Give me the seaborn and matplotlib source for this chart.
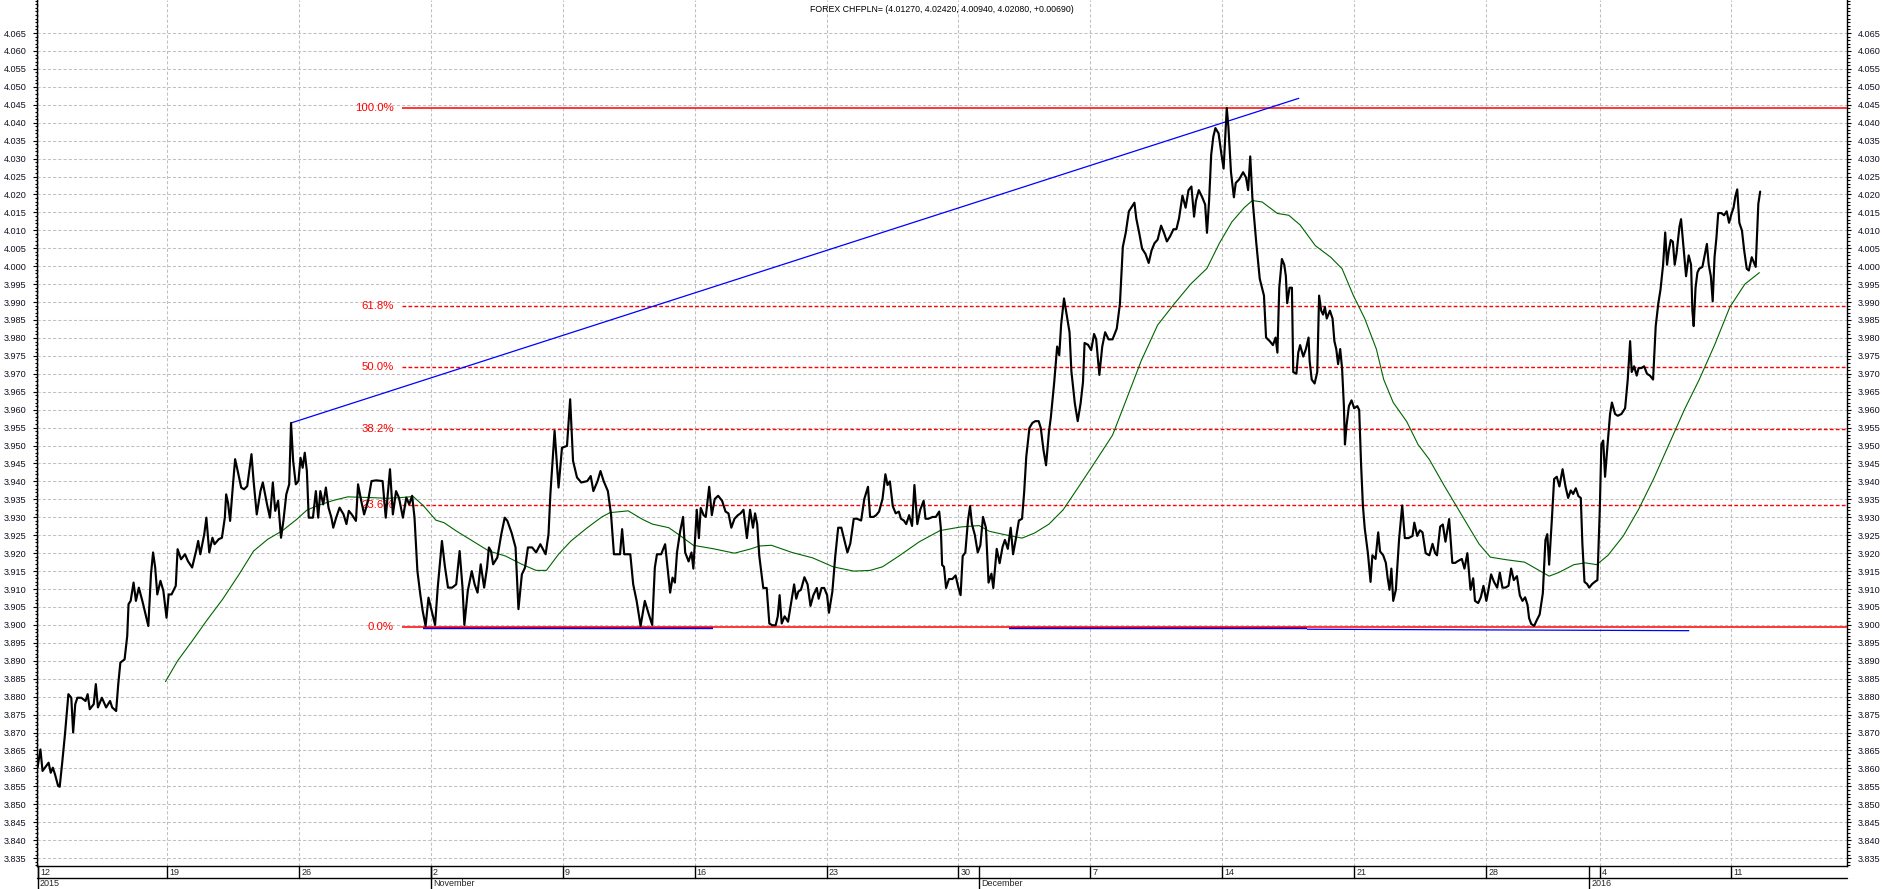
import matplotlib
matplotlib.use("Agg")
import matplotlib.pyplot as plt
import matplotlib.transforms as mtransforms
from matplotlib.lines import Line2D
from matplotlib.ticker import MultipleLocator, FormatStrFormatter
import numpy as np
import seaborn as sns

title = "FOREX CHFPLN= (4.01270, 4.02420, 4.00940, 4.02080, +0.00690)"

# x is counted in trading days from Mon 12 Oct 2015 (as laid out on the chart)
price_day = [
    0.09, 0.20, 0.28, 0.51, 0.59, 0.67, 0.75, 0.87, 0.93, 1.02, 1.13, 1.26, 1.37, 1.44, 1.52, 1.60,
    1.75, 1.91, 1.99, 2.07, 2.22, 2.30, 2.38, 2.53, 2.69, 2.84, 2.92, 3.07, 3.15, 3.23, 3.39, 3.49,
    3.54, 3.62, 3.73, 3.82, 3.93, 4.08, 4.29, 4.39, 4.47, 4.55, 4.63, 4.75, 4.86, 4.98, 5.06, 5.17,
    5.33, 5.40, 5.53, 5.68, 5.79, 5.95, 6.10, 6.18, 6.26, 6.41, 6.49, 6.60, 6.72, 6.80, 6.96, 7.08,
    7.19, 7.24, 7.31, 7.39, 7.50, 7.58, 7.69, 7.81, 7.92, 8.04, 8.20, 8.28, 8.40, 8.54, 8.63, 8.79,
    8.90, 9.01, 9.10, 9.21, 9.32, 9.41, 9.52, 9.63, 9.70, 9.78, 9.88, 9.98, 10.06, 10.14, 10.22, 10.30,
    10.37, 10.53, 10.64, 10.73, 10.81, 10.92, 11.02, 11.12, 11.23, 11.30, 11.41, 11.54, 11.69, 11.80,
    11.89, 12.00, 12.16, 12.24, 12.36, 12.47, 12.62, 12.75, 12.93, 13.17, 13.29, 13.45, 13.56, 13.68,
    13.79, 13.94, 14.07, 14.18, 14.29, 14.38, 14.49, 14.60, 14.69, 14.80, 14.91, 15.03, 15.16, 15.26,
    15.42, 15.53, 15.65, 15.81, 15.96, 16.09, 16.20, 16.27, 16.40, 16.55, 16.66, 16.77, 16.89, 17.02,
    17.13, 17.20, 17.28, 17.36, 17.52, 17.67, 17.80, 17.90, 18.06, 18.21, 18.32, 18.45, 18.57, 18.68,
    18.84, 18.99, 19.15, 19.35, 19.46, 19.53, 19.69, 19.84, 19.97, 20.16, 20.28, 20.39, 20.54, 20.70,
    20.93, 21.06, 21.16, 21.32, 21.43, 21.55, 21.71, 21.83, 21.94, 22.17, 22.25, 22.33, 22.56, 22.67,
    22.80, 22.95, 23.11, 23.26, 23.39, 23.49, 23.57, 23.73, 23.88, 23.96, 24.07, 24.16,
    24.25, 24.33, 24.45, 24.56, 24.64, 24.77, 24.88, 24.95, 25.08, 25.16, 25.23, 25.34, 25.42, 25.55,
    25.65, 25.76, 25.89, 26.04, 26.17, 26.28, 26.39, 26.51, 26.64, 26.74, 26.85, 26.98, 27.10, 27.21,
    27.29, 27.37, 27.45, 27.60, 27.73, 27.83, 27.94, 28.07, 28.15, 28.22, 28.30, 28.41, 28.54, 28.66,
    28.77, 28.85, 28.93, 29.03, 29.16, 29.28, 29.39, 29.50, 29.63, 29.70, 29.81, 29.91, 30.02, 30.09,
    30.22, 30.33, 30.44, 30.56, 30.69, 30.79, 30.90, 31.03, 31.15, 31.31, 31.43, 31.57, 31.65, 31.78,
    31.88, 31.99, 32.12, 32.23, 32.31, 32.40, 32.51, 32.62, 32.74, 32.82, 32.93, 33.02, 33.13, 33.24,
    33.33, 33.44, 33.55, 33.68, 33.75, 33.86, 34.02, 34.14, 34.27, 34.33, 34.38, 34.45, 34.53, 34.64,
    34.77, 34.89, 35.00, 35.08, 35.16, 35.26, 35.36, 35.44, 35.51, 35.62, 35.73, 35.83, 35.93, 36.04,
    36.14, 36.25, 36.32, 36.45, 36.56, 36.67, 36.76, 36.87, 36.98, 37.07, 37.18, 37.29, 37.41, 37.49,
    37.57, 37.69, 37.80, 37.91, 38.04, 38.12, 38.22, 38.32, 38.43, 38.50, 38.63, 38.74, 38.82, 38.89,
    39.00, 39.10, 39.21, 39.28, 39.41, 39.52, 39.63, 39.72, 39.78, 39.91, 40.03, 40.14, 40.22, 40.34,
    40.45, 40.56, 40.69, 40.84, 41.00, 41.12, 41.23, 41.34, 41.46, 41.59, 41.67, 41.74, 41.85, 41.96,
    42.09, 42.21, 42.32, 42.43, 42.55, 42.68, 42.79, 42.90, 43.02, 43.15, 43.26, 43.36, 43.49, 43.61,
    43.72, 43.83, 43.93, 44.00, 44.11, 44.24, 44.35, 44.42, 44.50, 44.58, 44.66, 44.74, 44.86, 44.97,
    45.05, 45.12, 45.17, 45.23, 45.33, 45.44, 45.51, 45.64, 45.79, 45.90, 45.98, 46.06, 46.14, 46.29,
    46.42, 46.58, 46.66, 46.80, 46.92, 47.02, 47.09, 47.16, 47.26, 47.35, 47.41, 47.46, 47.55, 47.64,
    47.69, 47.81, 47.88, 47.95, 48.07, 48.17, 48.27, 48.31, 48.39, 48.50, 48.60, 48.67, 48.75, 48.82,
    48.89, 48.96, 49.08, 49.18, 49.25, 49.32, 49.39, 49.47, 49.54, 49.61, 49.65, 49.71, 49.80, 49.90,
    50.00, 50.12, 50.19, 50.26, 50.33, 50.40, 50.52, 50.62, 50.69, 50.81, 50.91, 50.98, 51.10, 51.20,
    51.27, 51.34, 51.41, 51.48, 51.58, 51.70, 51.82, 51.92, 52.06, 52.21, 52.28, 52.39, 52.49, 52.59,
    52.71, 52.85, 52.97, 53.07, 53.14, 53.26, 53.36, 53.46, 53.60, 53.72, 53.83, 53.93, 54.08, 54.18,
    54.29, 54.41, 54.51, 54.58, 54.70, 54.80, 54.90, 55.01, 55.09, 55.19, 55.30, 55.42, 55.52, 55.62,
    55.73, 55.85, 55.95, 56.05, 56.17, 56.28, 56.38, 56.48, 56.57, 56.63, 56.71, 56.82, 56.92, 57.03,
    57.15, 57.25, 57.32, 57.39, 57.49, 57.58, 57.68, 57.78, 57.90, 58.01, 58.11, 58.21, 58.30, 58.40,
    58.50, 58.59, 58.65, 58.73, 58.83, 58.91, 59.02, 59.12, 59.22, 59.31, 59.37, 59.44, 59.51, 59.60,
    59.70, 59.77, 59.89, 59.99, 60.13, 60.27, 60.37, 60.46, 60.52, 60.61, 60.71, 60.78, 60.89, 60.99,
    61.10, 61.21, 61.33, 61.43, 61.53, 61.61, 61.71, 61.79, 61.86, 61.93, 62.00, 62.08, 62.15, 62.22,
    62.33, 62.39, 62.48, 62.58, 62.68, 62.77, 62.82, 62.87, 62.94, 63.01, 63.08, 63.20, 63.30, 63.37,
    63.44, 63.52, 63.59, 63.66, 63.73, 63.80, 63.92, 64.02, 64.12, 64.21, 64.31, 64.38, 64.45, 64.52,
    64.60, 64.70, 64.78, 64.88, 64.96, 65.07, 65.13, 65.22, 65.27, 65.32, 65.39,
]
price_val = [
    3.8602, 3.8653, 3.8593, 3.8616, 3.8588, 3.8602, 3.8584, 3.8551, 3.8549, 3.8612, 3.8695, 3.8807, 3.8797, 3.8700, 3.8779, 3.8797,
    3.8797, 3.8788, 3.8807, 3.8765, 3.8779, 3.8835, 3.8770, 3.8797, 3.8770, 3.8788, 3.8770, 3.8760, 3.8835, 3.8895, 3.8904, 3.8969,
    3.9058, 3.9067, 3.9118, 3.9067, 3.9104, 3.9062, 3.8997, 3.9141, 3.9202, 3.9160, 3.9085, 3.9123, 3.9095, 3.9020, 3.9085, 3.9085,
    3.9109, 3.9211, 3.9183, 3.9197, 3.9178, 3.9160, 3.9206, 3.9234, 3.9197, 3.9253, 3.9299, 3.9202, 3.9243, 3.9225, 3.9239, 3.9243,
    3.9299, 3.9364, 3.9341, 3.9290, 3.9392, 3.9462, 3.9425, 3.9383, 3.9378, 3.9387, 3.9476, 3.9401, 3.9308, 3.9373, 3.9397, 3.9336,
    3.9299, 3.9397, 3.9318, 3.9346, 3.9243, 3.9290, 3.9364, 3.9392, 3.9563, 3.9457, 3.9392, 3.9401, 3.9466, 3.9438, 3.9480, 3.9429,
    3.9299, 3.9299, 3.9373, 3.9299, 3.9373, 3.9336, 3.9383, 3.9327, 3.9299, 3.9271, 3.9299, 3.9327, 3.9308, 3.9281,
    3.9318, 3.9308, 3.9290, 3.9392, 3.9346, 3.9308, 3.9346, 3.9401, 3.9403, 3.9401, 3.9299, 3.9434, 3.9308, 3.9373,
    3.9355, 3.9299, 3.9355, 3.9336, 3.9360, 3.9299, 3.9150, 3.9085, 3.9039, 3.8997, 3.9076, 3.9039, 3.9000, 3.9104,
    3.9234, 3.9164, 3.9104, 3.9104, 3.9113, 3.9206, 3.9104, 3.9000, 3.9095, 3.9150, 3.9113, 3.9090, 3.9169, 3.9104,
    3.9160, 3.9216, 3.9206, 3.9169, 3.9188, 3.9253, 3.9299, 3.9290, 3.9257, 3.9216, 3.9044, 3.9141, 3.9160, 3.9216,
    3.9216, 3.9202, 3.9225, 3.9197, 3.9253, 3.9364, 3.9541, 3.9383, 3.9494, 3.9499, 3.9629, 3.9457, 3.9411, 3.9397,
    3.9401, 3.9415, 3.9373, 3.9401, 3.9429, 3.9401, 3.9373, 3.9308, 3.9197, 3.9197, 3.9267, 3.9197, 3.9197, 3.9113,
    3.9067, 3.8997, 3.9067, 3.9030, 3.9000, 3.9160, 3.9197, 3.9197, 3.9225, 3.9169, 3.9090, 3.9132,
    3.9118, 3.9202, 3.9261, 3.9301, 3.9202, 3.9177, 3.9202, 3.9157, 3.9321, 3.9242, 3.9326, 3.9306, 3.9301, 3.9385,
    3.9306, 3.9351, 3.9360, 3.9346, 3.9316, 3.9311, 3.9271, 3.9296, 3.9306, 3.9311, 3.9321, 3.9242, 3.9321, 3.9271,
    3.9311, 3.9281, 3.9192, 3.9103, 3.9103, 3.9004, 3.8999, 3.8999, 3.9024, 3.9083, 3.9004, 3.9024, 3.9009, 3.9063,
    3.9113, 3.9073, 3.9093, 3.9098, 3.9133, 3.9113, 3.9053, 3.9083, 3.9103, 3.9073, 3.9103, 3.9103, 3.9083, 3.9034,
    3.9093, 3.9192, 3.9271, 3.9271, 3.9232, 3.9202, 3.9227, 3.9296, 3.9296, 3.9291, 3.9351, 3.9385, 3.9301, 3.9301,
    3.9306, 3.9316, 3.9351, 3.9420, 3.9390, 3.9400, 3.9331, 3.9311, 3.9316, 3.9296, 3.9291, 3.9281, 3.9306, 3.9276,
    3.9390, 3.9281, 3.9321, 3.9346, 3.9296, 3.9296, 3.9301, 3.9301, 3.9316, 3.9271, 3.9167, 3.9162, 3.9103, 3.9128,
    3.9128, 3.9138, 3.9103, 3.9083, 3.9192, 3.9202, 3.9291, 3.9331, 3.9281, 3.9251, 3.9202, 3.9222, 3.9301, 3.9271,
    3.9118, 3.9143, 3.9103, 3.9212, 3.9172, 3.9217, 3.9237, 3.9212, 3.9271, 3.9197, 3.9242, 3.9291, 3.9296, 3.9370,
    3.9469, 3.9549, 3.9563, 3.9568, 3.9568, 3.9549, 3.9489, 3.9445, 3.9539, 3.9578, 3.9677, 3.9776, 3.9752, 3.9836,
    3.9910, 3.9866, 3.9816, 3.9707, 3.9618, 3.9568, 3.9618, 3.9677, 3.9786, 3.9781, 3.9766, 3.9811, 3.9796, 3.9697,
    3.9776, 3.9816, 3.9796, 3.9796, 3.9826, 3.9895, 4.0054, 4.0093, 4.0153, 4.0168, 4.0177, 4.0133, 4.0093, 4.0049,
    4.0034, 4.0009, 4.0044, 4.0064, 4.0074, 4.0113, 4.0093, 4.0069, 4.0083, 4.0103, 4.0103, 4.0133, 4.0197, 4.0163,
    4.0212, 4.0222, 4.0138, 4.0182, 4.0212, 4.0192, 4.0172, 4.0093, 4.0182, 4.0311, 4.0361, 4.0385, 4.0370, 4.0311,
    4.0272, 4.0370, 4.0441, 4.0390, 4.0262, 4.0192, 4.0232, 4.0242, 4.0262, 4.0247, 4.0212, 4.0306, 4.0192, 4.0064,
    3.9965, 3.9918, 3.9801, 3.9791, 3.9780, 3.9801, 3.9759, 3.9940, 4.0020, 4.0004, 3.9972, 3.9897, 3.9940, 3.9940,
    3.9705, 3.9700, 3.9759, 3.9780, 3.9748, 3.9769, 3.9801, 3.9737, 3.9684, 3.9673, 3.9705, 3.9918, 3.9876, 3.9865,
    3.9886, 3.9854, 3.9876, 3.9854, 3.9791, 3.9769, 3.9727, 3.9769, 3.9716, 3.9610, 3.9503, 3.9556, 3.9610, 3.9626,
    3.9604, 3.9610, 3.9599, 3.9450, 3.9333, 3.9269, 3.9200, 3.9120, 3.9194, 3.9184, 3.9258, 3.9205, 3.9194, 3.9173,
    3.9130, 3.9098, 3.9157, 3.9067, 3.9098, 3.9237, 3.9333, 3.9242, 3.9242, 3.9248, 3.9285, 3.9248, 3.9264, 3.9258,
    3.9200, 3.9194, 3.9226, 3.9200, 3.9194, 3.9274, 3.9280, 3.9232, 3.9295, 3.9173, 3.9173, 3.9178, 3.9184, 3.9157,
    3.9200, 3.9098, 3.9130, 3.9067, 3.9061, 3.9077, 3.9109, 3.9067, 3.9098, 3.9141, 3.9120, 3.9104, 3.9146, 3.9104,
    3.9104, 3.9109, 3.9157, 3.9125, 3.9136, 3.9082, 3.9067, 3.9077, 3.9056, 3.9019, 3.9003, 3.8997, 3.9013, 3.9029,
    3.9088, 3.9237, 3.9253, 3.9168, 3.9290, 3.9407, 3.9413, 3.9386, 3.9434, 3.9386, 3.9354, 3.9375, 3.9365, 3.9381,
    3.9359, 3.9354, 3.9226, 3.9120, 3.9114, 3.9104, 3.9114, 3.9120, 3.9125, 3.9322, 3.9503, 3.9514, 3.9413, 3.9498,
    3.9588, 3.9620, 3.9588, 3.9583, 3.9588, 3.9604, 3.9684, 3.9791, 3.9705, 3.9721, 3.9695, 3.9716, 3.9716, 3.9721,
    3.9700, 3.9695, 3.9684, 3.9833, 3.9897, 3.9934, 4.0004, 4.0094, 4.0004, 4.0046, 4.0073, 4.0068, 4.0004, 4.0036,
    4.0110, 4.0131, 4.0057, 3.9972, 4.0030, 4.0004, 3.9876, 3.9833, 3.9940, 3.9982, 3.9993, 3.9998, 4.0036, 4.0062,
    4.0004, 3.9972, 3.9902, 4.0025, 4.0078, 4.0148, 4.0148, 4.0142, 4.0153, 4.0121, 4.0148, 4.0163, 4.0195, 4.0214,
    4.0121, 4.0099, 4.0046, 3.9993, 3.9988, 4.0025, 4.0014, 3.9998, 4.0089, 4.0174, 4.0208,
]

# moving average (green)
ma_day = [
    4.94, 5.40, 5.95, 6.49, 7.11, 7.73, 8.28, 8.82, 9.36, 9.91, 10.30, 10.68, 11.30, 11.85, 12.70, 13.32,
    13.87, 14.33, 14.72, 15.19, 15.50, 15.96, 16.58, 17.20, 17.83, 18.45, 18.99, 19.38, 19.84, 20.31,
    20.93, 21.48, 21.79, 22.48, 23.03, 23.40, 24.02, 24.41, 24.95, 25.73, 26.51, 27.13, 27.45, 27.91,
    28.69, 29.47, 30.25, 31.03, 31.65, 32.12, 32.74, 33.52, 34.30, 35.08, 35.78, 36.17, 36.79, 37.41,
    37.88, 38.43, 38.97, 39.60, 40.22, 40.84, 41.31, 41.93, 42.55, 43.18, 43.80, 44.42, 44.89, 45.36,
    45.83, 46.14, 46.51, 47.09, 47.52, 47.95, 48.53, 49.11, 49.54, 49.97, 50.40, 50.84, 51.12, 51.48,
    51.99, 52.42, 52.85, 53.43, 53.86, 54.29, 54.73, 55.16, 55.74, 56.46, 56.89, 57.39, 57.75, 58.33,
    58.76, 59.19, 59.62, 60.20, 60.78, 61.35, 61.93, 62.51, 63.08, 63.66, 64.24, 64.81, 65.36,
]
ma_val = [
    3.8842, 3.8900, 3.8955, 3.9011, 3.9072, 3.9141, 3.9206, 3.9239, 3.9262, 3.9294, 3.9320, 3.9332, 3.9347, 3.9357, 3.9355, 3.9353,
    3.9355, 3.9358, 3.9332, 3.9292, 3.9285, 3.9262, 3.9234, 3.9206, 3.9192, 3.9169, 3.9152, 3.9152, 3.9197, 3.9234,
    3.9271, 3.9301, 3.9313, 3.9318, 3.9294, 3.9281, 3.9271, 3.9251, 3.9222, 3.9212, 3.9200, 3.9212, 3.9220, 3.9222,
    3.9202, 3.9187, 3.9162, 3.9150, 3.9152, 3.9162, 3.9192, 3.9232, 3.9263, 3.9273, 3.9277, 3.9261, 3.9251, 3.9242,
    3.9256, 3.9281, 3.9321, 3.9390, 3.9459, 3.9529, 3.9618, 3.9737, 3.9836, 3.9895, 3.9950, 3.9994, 4.0064, 4.0123,
    4.0163, 4.0183, 4.0179, 4.0147, 4.0142, 4.0115, 4.0057, 4.0025, 3.9993, 3.9918, 3.9854, 3.9769, 3.9684, 3.9620,
    3.9567, 3.9503, 3.9461, 3.9386, 3.9333, 3.9280, 3.9226, 3.9189, 3.9182, 3.9175, 3.9157, 3.9136, 3.9146, 3.9168,
    3.9173, 3.9168, 3.9194, 3.9248, 3.9322, 3.9407, 3.9503, 3.9599, 3.9684, 3.9780, 3.9886, 3.9950, 3.9982,
]

# Fibonacci retracement drawn from the 0% low to the 100% high
fib_start = 13.9
fib_levels = [3.8994, 3.9335, 3.9547, 3.9718, 3.9888, 4.0441]
fib_labels = ["0.0%", "23.6%", "38.2%", "50.0%", "61.8%", "100.0%"]
fib_solid = [True, False, False, False, False, True]

# blue trend line and the support lines at the lows
trend_day = [9.70, 47.90]
trend_val = [3.9563, 4.0468]
support_day = [(14.72, 25.70), (36.92, 48.21), (48.21, 62.70)]
support_val = [(3.8992, 3.8992), (3.8992, 3.8992), (3.8988, 3.8984)]
support_width = [1.7, 1.7, 0.9]

week_pos = [0.1, 5, 10, 15, 20, 25, 30, 35, 40, 45, 50, 55, 59.3, 64.3]
week_labels = ["12", "19", "26", "2", "9", "16", "23", "30", "7", "14", "21", "28", "4", "11"]
month_pos = [0.1, 15, 35.78, 58.9]
month_labels = ["2015", "November", "December", "2016"]

y_major = list(np.round(np.arange(3.835, 4.0651, 0.005), 3))

W, H = 1883, 889
sns.set_style("white")
plt.rcParams['font.family'] = ['Liberation Sans', 'DejaVu Sans']

fig = plt.figure(figsize=(W / 100, H / 100), dpi=100)
ax = fig.add_axes([37 / W, 23 / H, (1847.5 - 37) / W, 866 / H])

# support lines sit under the red 0% line, which overlaps their top edge
for (d0, d1), (v0, v1), lw in zip(support_day, support_val, support_width):
    ax.plot([d0, d1], [v0, v1], color="#0000ff", lw=lw, zorder=2.8, solid_capstyle="butt")

for lvl, lab, solid in zip(fib_levels, fib_labels, fib_solid):
    ax.hlines(lvl, fib_start, 68.7, color="#ff0000", lw=1.1 if solid else 1.0,
              linestyles="solid" if solid else (0, (2.7, 1.6)), zorder=3)
    ax.text(fib_start - 0.3, lvl, lab, color="#ff0000", fontsize=8.2,
            ha="right", va="center", zorder=4)

ax.plot(trend_day, trend_val, color="#0000ff", lw=0.9, zorder=3)

sns.lineplot(x=ma_day, y=ma_val, ax=ax, color="#006400", lw=0.8, sort=False,
             estimator=None, zorder=4)
sns.lineplot(x=price_day, y=price_val, ax=ax, color="black", lw=1.55, sort=False,
             estimator=None, zorder=5)

ax.set_xlim(0.07, 68.7)
ax.set_ylim(3.8328, 4.0742)
ax.set_xlabel("")
ax.set_ylabel("")

ax.set_yticks(y_major)
ax.yaxis.set_major_formatter(FormatStrFormatter("%.3f"))
ax.yaxis.set_minor_locator(MultipleLocator(0.001))
ax.tick_params(axis="y", which="both", left=True, right=True, labelleft=True,
               labelright=True, direction="out", colors="black", labelsize=6.6,
               width=0.8)
ax.tick_params(axis="y", which="major", length=3.2, pad=4.5)
ax.tick_params(axis="y", which="minor", length=1.8)
for lab in ax.get_yticklabels():
    lab.set_color("#111122")

ax.set_xticks(week_pos)
ax.tick_params(axis="x", length=0, labelbottom=False)

ax.grid(True, which="major", axis="both", color="#c0c0c0",
        linestyle=(0, (3, 2)), linewidth=0.75)
ax.set_axisbelow(True)

for side in ["left", "right", "bottom"]:
    ax.spines[side].set_color("black")
    ax.spines[side].set_linewidth(1.0)
ax.spines["top"].set_visible(False)

ax.text(0.5, 1 - 9 / 866, title, transform=ax.transAxes, ha="center", va="center",
        fontsize=6.3, color="black")

# date band under the plot: weeks on the first row, months/years on the second
trans = mtransforms.blended_transform_factory(ax.transData, fig.transFigure)
y_top = 23 / H
y_mid = 11 / H
fig.add_artist(Line2D([37 / W, 1847.5 / W], [y_mid, y_mid], transform=fig.transFigure,
                      color="black", lw=1.0))
for p, lab in zip(week_pos, week_labels):
    fig.add_artist(Line2D([p, p], [y_top, y_mid], transform=trans, color="black", lw=1.0))
    ax.text(p + 0.08, (H - 872.5) / H, lab, transform=trans, fontsize=6.5,
            ha="left", va="center", clip_on=False)
for p, lab in zip(month_pos, month_labels):
    fig.add_artist(Line2D([p, p], [y_top, 0], transform=trans, color="black", lw=1.0))
    ax.text(p + 0.08, (H - 883.5) / H, lab, transform=trans, fontsize=6.5,
            ha="left", va="center", clip_on=False)

fig.savefig("out.png", dpi=100)
